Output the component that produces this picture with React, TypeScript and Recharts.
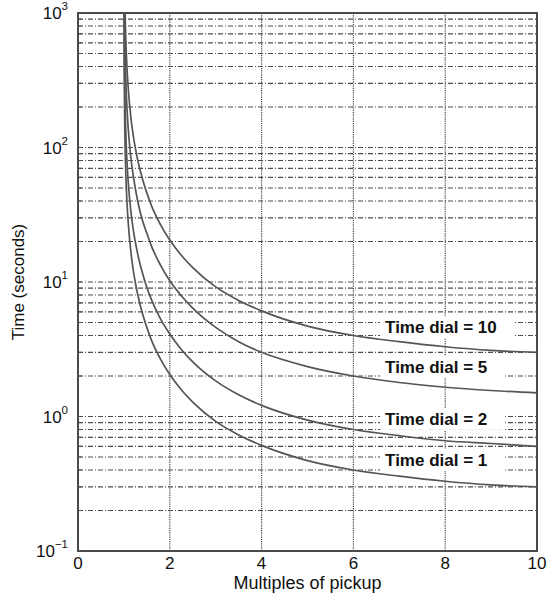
import {
  LineChart,
  Line,
  XAxis,
  YAxis,
  CartesianGrid,
  ReferenceArea,
  ReferenceDot,
} from "recharts";

// multiples of pickup current (x) sampled along the curves
const MULTIPLES = [
  1.0025, 1.005, 1.01, 1.02, 1.03, 1.05, 1.075, 1.1, 1.15, 1.2, 1.3, 1.4, 1.5, 1.6, 1.8, 2, 2.25,
  2.5, 3, 3.5, 4, 5, 6, 7, 8, 9, 10,
];

// operating time (s)
const TD1 = [
  1081, 540, 269, 134, 89, 53, 35, 26, 17, 12.5, 8.1, 5.9, 4.6, 3.7, 2.66, 2.05, 1.58, 1.28, 0.92,
  0.73, 0.61, 0.47, 0.4, 0.36, 0.33, 0.31, 0.3,
];
const TD2 = [
  2162, 1080, 538, 268, 178, 106, 70, 52, 34, 25, 16.2, 11.8, 9.1, 7.4, 5.3, 4.1, 3.15, 2.55, 1.84,
  1.45, 1.21, 0.94, 0.8, 0.72, 0.66, 0.63, 0.6,
];
const TD5 = [
  5400, 2700, 1346, 671, 446, 265, 175, 130, 85, 63, 40, 29, 23, 18.5, 13.3, 10.2, 7.9, 6.4, 4.6,
  3.6, 3.0, 2.35, 2.0, 1.79, 1.65, 1.56, 1.5,
];
const TD10 = [
  10800, 5400, 2690, 1340, 891, 530, 350, 260, 170, 125, 81, 59, 46, 37, 26.6, 20.5, 15.8, 12.8,
  9.2, 7.3, 6.1, 4.7, 4.0, 3.6, 3.3, 3.1, 3.0,
];

const X_TICKS = [0, 2, 4, 6, 8, 10];
const DECADES = [0.1, 1, 10, 100];
const MANTISSAS = [1, 2, 3, 4, 5, 6, 7, 8, 9];
const Y_TICKS = [...DECADES.flatMap((d) => MANTISSAS.map((m) => +(m * d).toPrecision(3))), 1000];

const SERIES = [
  { key: "td10", label: "Time dial = 10", values: TD10 },
  { key: "td5", label: "Time dial = 5", values: TD5 },
  { key: "td2", label: "Time dial = 2", values: TD2 },
  { key: "td1", label: "Time dial = 1", values: TD1 },
];

// where each curve label sits (x = multiple, y = seconds)
const LABEL_SPOTS: Record<string, [number, number]> = {
  td10: [6.69, 4.6],
  td5: [6.69, 2.33],
  td2: [6.69, 0.96],
  td1: [6.69, 0.475],
};

const chartData = MULTIPLES.map((m, i) => {
  const row: Record<string, number> = { m };
  SERIES.forEach((s) => (row[s.key] = s.values[i]));
  return row;
});

const FONT = "'Liberation Sans', Arial, Helvetica, sans-serif";
const LINE_COLOR = "#555";
const GRID_COLOR = "#4d4d4d";

const isDecade = (v: number) => Math.abs(Math.log10(v) - Math.round(Math.log10(v))) < 1e-9;

function LeftTick(props: any) {
  const { x, y, payload } = props;
  const v = payload.value as number;
  const exp = Math.round(Math.log10(v));
  return (
    <g>
      <line x1={x + 10} x2={x + 14} y1={y} y2={y} stroke={GRID_COLOR} strokeWidth={1} />
      {isDecade(v) && (
        <text x={x} y={y + 6} textAnchor="end" fontFamily={FONT} fontSize={17} fill="#111">
          10
          <tspan dy={-9} fontSize={11.5}>
            {exp < 0 ? `\u2212${-exp}` : exp}
          </tspan>
        </text>
      )}
    </g>
  );
}

function RightTick(props: any) {
  const { x, y } = props;
  return <line x1={x - 4} x2={x} y1={y} y2={y} stroke={GRID_COLOR} strokeWidth={1} />;
}

function curveLabel(text: string) {
  return (props: any) => {
    const { cx, cy } = props;
    const w = text.length * 9;
    return (
      <g>
        <rect x={cx - 5} y={cy - 11} width={w + 8} height={22} fill="#fff" />
        <text
          x={cx}
          y={cy + 6}
          fontFamily={FONT}
          fontSize={17}
          fontWeight="bold"
          fill="#111"
        >
          {text}
        </text>
      </g>
    );
  };
}

export default function App() {
  return (
    <div style={{ position: "absolute", left: 0, top: 0, background: "#fff" }}>
      <LineChart
        width={547}
        height={596}
        data={chartData}
        margin={{ top: 13, right: 10, left: 0, bottom: 0 }}
      >
        <CartesianGrid
          horizontal={false}
          stroke={GRID_COLOR}
          strokeDasharray="1.2 1"
          strokeWidth={1.2}
        />
        <CartesianGrid
          vertical={false}
          stroke={GRID_COLOR}
          strokeDasharray="5 2 1 2"
          strokeWidth={1.1}
        />
        <XAxis
          dataKey="m"
          type="number"
          domain={[0, 10]}
          ticks={X_TICKS}
          allowDataOverflow
          axisLine={false}
          tickLine={false}
          tickSize={0}
          tickMargin={6}
          height={45}
          tick={{ fontFamily: FONT, fontSize: 17, fill: "#111" }}
          label={{
            value: "Multiples of pickup",
            position: "insideBottom",
            offset: 7,
            style: { fontFamily: FONT, fontSize: 18, fill: "#111" },
          }}
        />
        <YAxis
          type="number"
          scale="log"
          domain={[0.1, 1000]}
          ticks={Y_TICKS}
          interval={0}
          allowDataOverflow
          axisLine={false}
          tickLine={false}
          tickSize={0}
          tickMargin={10}
          width={78}
          tick={<LeftTick />}
          label={{
            value: "Time (seconds)",
            angle: -90,
            position: "insideLeft",
            offset: 18,
            style: { fontFamily: FONT, fontSize: 17, fill: "#111", textAnchor: "middle" },
          }}
        />
        <YAxis
          yAxisId="r"
          orientation="right"
          type="number"
          scale="log"
          domain={[0.1, 1000]}
          ticks={Y_TICKS}
          interval={0}
          allowDataOverflow
          axisLine={false}
          tickLine={false}
          tickSize={0}
          tickMargin={0}
          width={0}
          tick={<RightTick />}
        />
        {SERIES.map((s) => (
          <Line
            key={s.key}
            type="monotone"
            dataKey={s.key}
            stroke={LINE_COLOR}
            strokeWidth={1.7}
            dot={false}
            activeDot={false}
            isAnimationActive={false}
          />
        ))}
        {SERIES.map((s) => (
          <ReferenceDot
            key={`lbl-${s.key}`}
            x={LABEL_SPOTS[s.key][0]}
            y={LABEL_SPOTS[s.key][1]}
            ifOverflow="visible"
            shape={curveLabel(s.label)}
          />
        ))}
        <ReferenceArea
          x1={0}
          x2={10}
          y1={0.1}
          y2={1000}
          fill="none"
          fillOpacity={0}
          stroke="#4a4a4a"
          strokeWidth={2}
          ifOverflow="visible"
        />
      </LineChart>
    </div>
  );
}
